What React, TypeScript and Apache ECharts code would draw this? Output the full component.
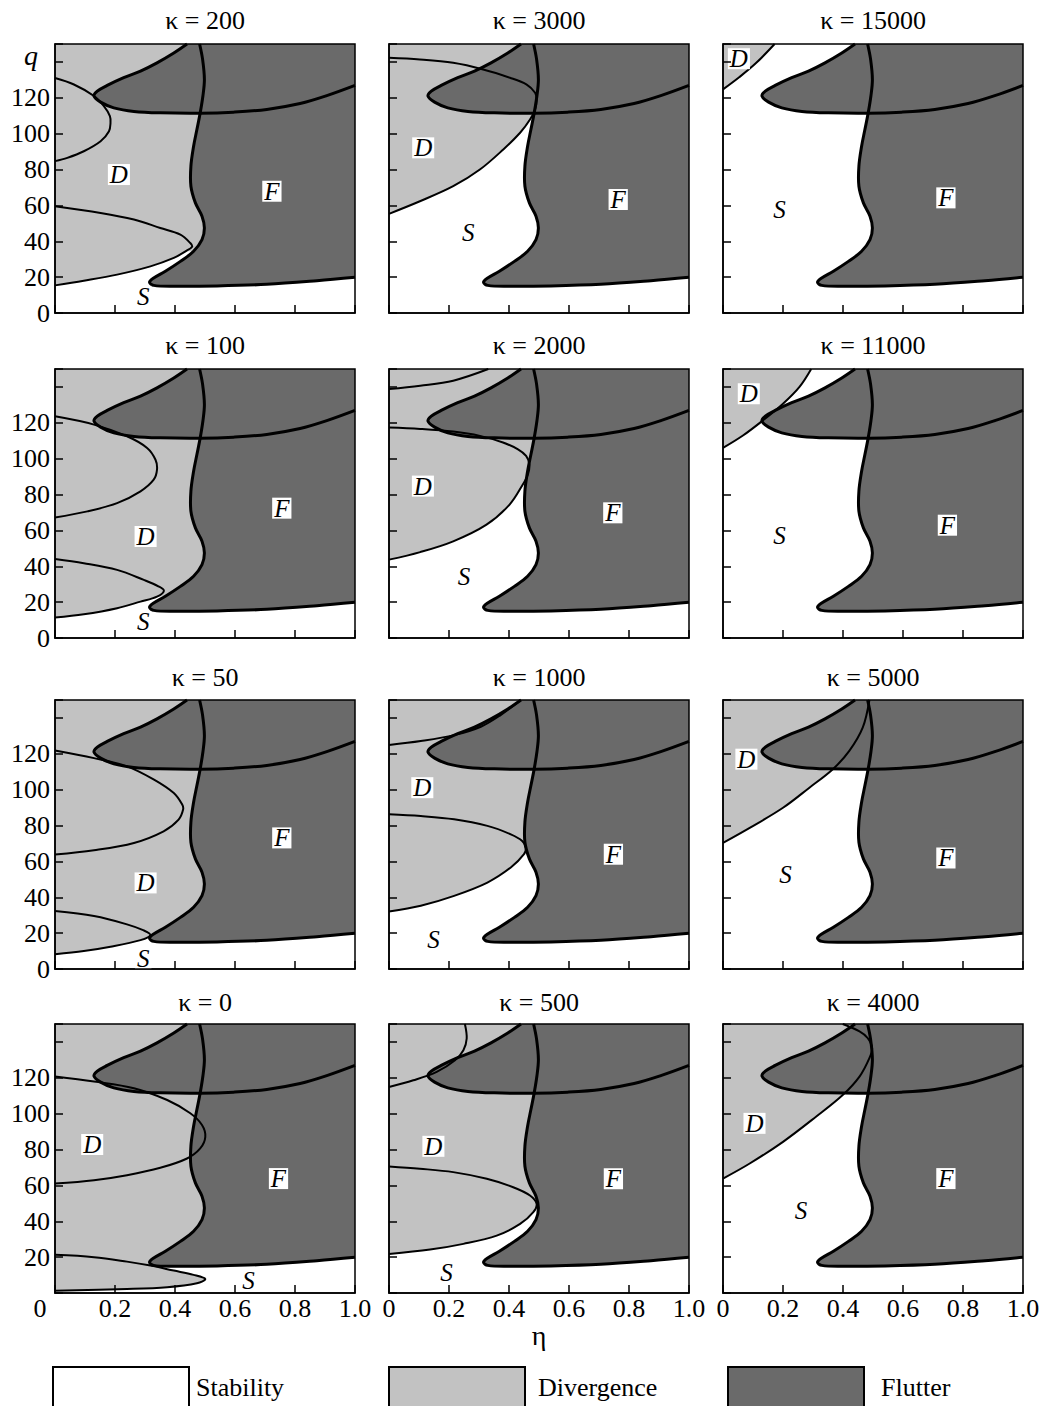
import React, { useEffect, useRef } from 'react';
import * as echarts from 'echarts';

type Pt = [number, number];

const FONT = '"Liberation Serif", "Times New Roman", serif';
const LIGHT = '#c2c2c2';
const DARK = '#6a6a6a';

const Q_MAX = 150;
const Q_STEP = 20;
const ETA_STEP = 0.2;

// Flutter boundary (identical for every κ)
const flutterTongue: Pt[] = [
  [0.44, 150], [0.396, 145], [0.34, 139.5], [0.285, 134.9], [0.229, 131.2], [0.174, 126.9],
  [0.141, 123.7], [0.13, 120.9], [0.152, 117.6], [0.196, 114.4], [0.263, 112.4], [0.351, 111.6],
  [0.484, 111.4], [0.595, 112], [0.706, 113.5], [0.817, 116.8], [0.906, 121.2], [1, 126.9],
];
const flutterMain: Pt[] = [
  [0.482, 150], [0.492, 141.4], [0.498, 130.2], [0.493, 121], [0.484, 111.6], [0.473, 102.3],
  [0.462, 93], [0.453, 81.9], [0.453, 70.7], [0.468, 61.4], [0.49, 54], [0.498, 47.4],
  [0.49, 40.9], [0.462, 34.4], [0.418, 28.8], [0.368, 23.3], [0.329, 19.5], [0.315, 17.1],
  [0.329, 15.4], [0.396, 14.9], [0.54, 15.1], [0.706, 16], [0.873, 18], [1, 19.9],
];

// Divergence boundaries per κ
const k200Upper: Pt[] = [[0, 131], [0.063, 127.4], [0.13, 121], [0.163, 115.3], [0.183, 109.8], [0.185, 106], [0.18, 101.4], [0.152, 95.8], [0.096, 90.2], [0.041, 86.5], [0, 84.7]];
const k200Lower: Pt[] = [[0, 59.5], [0.152, 55.8], [0.263, 52.1], [0.351, 47.4], [0.418, 43.7], [0.451, 39], [0.457, 37], [0.435, 34.4], [0.396, 30.7], [0.318, 26], [0.207, 21.4], [0.096, 18], [0, 15.4]];

const k3000Curve: Pt[] = [[0, 142.3], [0.103, 141.4], [0.214, 139.5], [0.314, 135.8], [0.403, 131.2], [0.459, 127.4], [0.487, 122.8], [0.492, 119], [0.487, 113.5], [0.47, 107.9], [0.437, 100.5], [0.381, 91.2], [0.303, 80], [0.214, 70.7], [0.103, 62.3], [0, 55.3]];

const k15000Curve: Pt[] = [[0, 124.7], [0.055, 131.6], [0.111, 139.5], [0.172, 150]];

const k100Upper: Pt[] = [[0, 123.6], [0.13, 119], [0.24, 112.5], [0.307, 106], [0.335, 99.4], [0.34, 93.9], [0.329, 88.3], [0.285, 81.8], [0.207, 75.2], [0.108, 70.6], [0, 67.2]];
const k100Lower: Pt[] = [[0, 44], [0.096, 41.7], [0.207, 38], [0.296, 32.4], [0.346, 28.7], [0.363, 26.3], [0.34, 23.1], [0.285, 20.3], [0.207, 16.6], [0.096, 13.2], [0, 11.4]];

const k2000Top: Pt[] = [[0, 138.8], [0.104, 140.7], [0.214, 143.5], [0.331, 150]];
const k2000Mid: Pt[] = [[0, 117.4], [0.104, 116.6], [0.214, 115.1], [0.303, 112.7], [0.38, 109], [0.43, 105.2], [0.457, 101.5], [0.468, 96.8], [0.463, 91.2], [0.446, 85.6], [0.402, 74.4], [0.325, 63.2], [0.214, 53.9], [0.104, 47.9], [0, 43.7]];

const k11000Curve: Pt[] = [[0, 106], [0.0665, 112.9], [0.133, 121.3], [0.2, 130.6], [0.255, 140], [0.294, 150]];

const k50Upper: Pt[] = [[0, 121.9], [0.13, 117.6], [0.24, 113], [0.33, 105.6], [0.396, 98.1], [0.424, 91.7], [0.427, 88.9], [0.412, 83.3], [0.362, 76.8], [0.263, 70.3], [0.13, 66.2], [0, 63.8]];
const k50Lower: Pt[] = [[0, 32.3], [0.13, 29.5], [0.24, 24.9], [0.296, 21.5], [0.318, 18.9], [0.285, 16.1], [0.185, 12.4], [0.096, 10], [0, 8.2]];

const k1000Top: Pt[] = [[0, 124.9], [0.106, 127.1], [0.217, 130.4], [0.306, 135.1], [0.372, 141.6], [0.439, 150]];
const k1000Mid: Pt[] = [[0, 86.3], [0.106, 85.3], [0.217, 83.5], [0.328, 79.8], [0.406, 75.1], [0.444, 71.4], [0.456, 67.7], [0.45, 64], [0.406, 56.6], [0.328, 48.2], [0.217, 40.8], [0.106, 35.3], [0, 32.1]];

const k5000Curve: Pt[] = [[0, 70.3], [0.089, 78.7], [0.2, 89.9], [0.288, 101.1], [0.366, 111.4], [0.421, 121.6], [0.466, 134.7], [0.488, 150]];

const k0Upper: Pt[] = [[0, 120.7], [0.13, 117.9], [0.263, 114.2], [0.374, 107.6], [0.451, 100.2], [0.49, 93.7], [0.501, 87.1], [0.484, 80.6], [0.44, 75], [0.351, 69.8], [0.24, 65.7], [0.13, 62.9], [0, 61]];
const k0Lower: Pt[] = [[0, 21.3], [0.13, 20], [0.24, 17.5], [0.318, 15.3], [0.396, 12.5], [0.462, 10.1], [0.501, 7.8], [0.473, 5.4], [0.374, 3.2], [0.24, 2.2], [0, 1.3]];

const k500Top: Pt[] = [[0.253, 150], [0.259, 141.9], [0.248, 135.4], [0.22, 129.8], [0.159, 123.3], [0.081, 118.6], [0, 114.9]];
const k500Mid: Pt[] = [[0, 70.6], [0.103, 69.3], [0.214, 67.4], [0.326, 63.7], [0.414, 59], [0.47, 54.4], [0.492, 49.7], [0.481, 45.1], [0.437, 38.5], [0.359, 32], [0.248, 27.4], [0.137, 24.2], [0, 21.8]];

const k4000Curve: Pt[] = [[0, 63.8], [0.089, 72.2], [0.2, 84.3], [0.31, 98.3], [0.399, 110.4], [0.455, 120.7], [0.488, 131], [0.497, 136.6], [0.482, 142.2], [0.455, 145.9], [0.399, 150]];

// Region labels [η, q, text]
const k200Labels: [number, number, string][] = [[0.213, 77.2, 'D'], [0.723, 67.9, 'F'], [0.294, 9.3, 'S']];
const k3000Labels: [number, number, string][] = [[0.114, 92.1, 'D'], [0.764, 63.3, 'F'], [0.264, 44.7, 'S']];
const k15000Labels: [number, number, string][] = [[0.053, 141.8, 'D'], [0.188, 57.7, 'S'], [0.743, 64.2, 'F']];
const k100Labels: [number, number, string][] = [[0.302, 56.6, 'D'], [0.756, 72.4, 'F'], [0.294, 9.1, 'S']];
const k2000Labels: [number, number, string][] = [[0.113, 84.7, 'D'], [0.746, 69.8, 'F'], [0.25, 34.3, 'S']];
const k11000Labels: [number, number, string][] = [[0.086, 136.2, 'D'], [0.188, 56.9, 'S'], [0.748, 62.9, 'F']];
const k50Labels: [number, number, string][] = [[0.302, 48, 'D'], [0.756, 73.1, 'F'], [0.294, 5.8, 'S']];
const k1000Labels: [number, number, string][] = [[0.111, 101.1, 'D'], [0.748, 64, 'F'], [0.148, 16.7, 'S']];
const k5000Labels: [number, number, string][] = [[0.078, 117, 'D'], [0.208, 52.6, 'S'], [0.743, 61.9, 'F']];
const k0Labels: [number, number, string][] = [[0.124, 82.8, 'D'], [0.745, 63.8, 'F'], [0.645, 6.9, 'S']];
const k500Labels: [number, number, string][] = [[0.148, 81.8, 'D'], [0.748, 63.7, 'F'], [0.192, 11.2, 'S']];
const k4000Labels: [number, number, string][] = [[0.105, 94.6, 'D'], [0.26, 46, 'S'], [0.743, 63.8, 'F']];

const kappaTitles = ['200', '3000', '15000', '100', '2000', '11000', '50', '1000', '5000', '0', '500', '4000'];

const closeRight = (pts: Pt[]): Pt[] => {
  const last = pts[pts.length - 1];
  return [...pts, [0.6, last[1]], [0.6, Q_MAX], [0, Q_MAX]];
};
const closeTopLeft = (pts: Pt[]): Pt[] => [...pts, [0, Q_MAX]];
const lowerBranch = (curve: Pt[], from: number): Pt[] => curve.slice(from).reverse();

interface Panel { lines: Pt[][]; gray: Pt[][]; labels: [number, number, string][] }

const panels: Panel[] = [
  { lines: [k200Upper, k200Lower], gray: [closeRight(lowerBranch(k200Lower, 7))], labels: k200Labels },
  { lines: [k3000Curve], gray: [closeRight(lowerBranch(k3000Curve, 8))], labels: k3000Labels },
  { lines: [k15000Curve], gray: [closeTopLeft(k15000Curve)], labels: k15000Labels },
  { lines: [k100Upper, k100Lower], gray: [closeRight(lowerBranch(k100Lower, 6))], labels: k100Labels },
  { lines: [k2000Top, k2000Mid], gray: [closeRight(lowerBranch(k2000Mid, 8))], labels: k2000Labels },
  { lines: [k11000Curve], gray: [closeTopLeft(k11000Curve)], labels: k11000Labels },
  { lines: [k50Upper, k50Lower], gray: [closeRight(lowerBranch(k50Lower, 4))], labels: k50Labels },
  { lines: [k1000Top, k1000Mid], gray: [closeRight(lowerBranch(k1000Mid, 7))], labels: k1000Labels },
  { lines: [k5000Curve], gray: [closeTopLeft(k5000Curve)], labels: k5000Labels },
  {
    lines: [k0Upper, k0Lower],
    gray: [k0Lower, [...k0Lower.slice(0, 4), [0.45, 25], [0.6, 25], [0.6, Q_MAX], [0, Q_MAX]]],
    labels: k0Labels,
  },
  { lines: [k500Top, k500Mid], gray: [closeRight(lowerBranch(k500Mid, 6))], labels: k500Labels },
  { lines: [k4000Curve], gray: [closeTopLeft(k4000Curve)], labels: k4000Labels },
];

const flutterFill: Pt[] = [...flutterTongue.slice(0, 13), ...flutterMain.slice(4), [1, Q_MAX]];

const COL_LEFT = [55, 389, 723];
const ROW_TOP = [44, 369, 700, 1024];
const PANEL_W = 300;
const PANEL_H = 269;
const TITLE_Y = [20, 345, 677, 1002];

function buildOption() {
  const grid: any[] = [];
  const xAxis: any[] = [];
  const yAxis: any[] = [];
  const series: any[] = [];
  const graphic: any[] = [];

  panels.forEach((p, i) => {
    const row = Math.floor(i / 3);
    const col = i % 3;
    grid.push({
      left: COL_LEFT[col], top: ROW_TOP[row], width: PANEL_W, height: PANEL_H,
      containLabel: false, outerBoundsMode: 'none',
    });
    const bottomRow = row === 3;
    xAxis.push({
      type: 'value', gridIndex: i, min: 0, max: 1, interval: ETA_STEP, z: 10,
      axisLine: { show: true, onZero: false, lineStyle: { color: '#000', width: 1.5 } },
      axisTick: { show: true, inside: true, length: 8, lineStyle: { color: '#000', width: 1.5 } },
      splitLine: { show: false },
      axisLabel: {
        show: bottomRow, margin: 2, color: '#000', fontSize: 26, fontFamily: FONT, hideOverlap: false,
        formatter: (v: number) => {
          if (v === 0) return col === 0 ? '{z|0}' : '0';
          return v.toFixed(1);
        },
        rich: { z: { fontSize: 26, fontFamily: FONT, color: '#000', padding: [0, 30, 0, 0] } },
      },
      name: bottomRow && col === 1 ? 'η' : '',
      nameLocation: 'middle', nameGap: 27,
      nameTextStyle: { fontSize: 28, fontFamily: FONT, color: '#000' },
    });
    yAxis.push({
      type: 'value', gridIndex: i, min: 0, max: Q_MAX, interval: Q_STEP, z: 10,
      axisLine: { show: true, onZero: false, lineStyle: { color: '#000', width: 1.5 } },
      axisTick: { show: true, inside: true, length: 8, lineStyle: { color: '#000', width: 1.5 } },
      splitLine: { show: false },
      axisLabel: {
        show: col === 0, margin: 5, color: '#000', fontSize: 26, fontFamily: FONT, hideOverlap: false,
        formatter: (v: number) => {
          if (v >= Q_MAX) return '';
          if (v === 140) return i === 0 ? '{q|q}' : '';
          if (v === 0) return bottomRow ? '' : '0';
          return String(v);
        },
        rich: { q: { fontSize: 28, fontStyle: 'italic', fontFamily: FONT, color: '#000', padding: [0, 12, 12, 0] } },
      },
    });

    series.push({
      type: 'custom', name: 'Divergence', xAxisIndex: i, yAxisIndex: i, z: 2, silent: true, clip: true,
      data: p.gray.map(() => [0, 0]),
      renderItem: (params: any, api: any) => ({
        type: 'polygon',
        shape: { points: p.gray[params.dataIndex].map((pt) => api.coord(pt)) },
        style: { fill: LIGHT, stroke: 'none' },
      }),
    });
    series.push({
      type: 'custom', name: 'Flutter', xAxisIndex: i, yAxisIndex: i, z: 3, silent: true, clip: true,
      data: [[0, 0]],
      renderItem: (_params: any, api: any) => ({
        type: 'polygon',
        shape: { points: flutterFill.map((pt) => api.coord(pt)) },
        style: { fill: DARK, stroke: 'none' },
      }),
    });
    series.push({
      type: 'custom', name: 'boundaries', xAxisIndex: i, yAxisIndex: i, z: 4, silent: true, clip: false,
      data: [[0, 0]],
      renderItem: (_params: any, api: any) => {
        const children: any[] = [];
        p.lines.forEach((ln) => {
          children.push({
            type: 'polyline',
            shape: { points: ln.map((pt) => api.coord(pt)), smooth: 0.35 },
            style: { stroke: '#000', lineWidth: 2, fill: 'none' },
          });
        });
        [flutterTongue, flutterMain].forEach((ln) => {
          children.push({
            type: 'polyline',
            shape: { points: ln.map((pt) => api.coord(pt)), smooth: 0.35 },
            style: { stroke: '#000', lineWidth: 3, fill: 'none' },
          });
        });
        const tl = api.coord([0, Q_MAX]);
        const br = api.coord([1, 0]);
        children.push({
          type: 'rect',
          shape: { x: tl[0], y: tl[1], width: br[0] - tl[0], height: br[1] - tl[1] },
          style: { stroke: '#000', lineWidth: 1.5, fill: 'none' },
        });
        p.labels.forEach(([eta, q, t]) => {
          const c = api.coord([eta, q]);
          children.push({
            type: 'text',
            x: c[0], y: c[1],
            style: {
              text: t, align: 'center', verticalAlign: 'middle',
              font: `italic 25px ${FONT}`, fill: '#000',
              backgroundColor: '#fff', padding: [1, 2, 0, 2], lineHeight: 20,
            },
          });
        });
        return { type: 'group', children };
      },
    });

    graphic.push({
      type: 'text', x: COL_LEFT[col] + PANEL_W / 2, y: TITLE_Y[row],
      style: {
        text: 'κ = ' + kappaTitles[i], align: 'center', verticalAlign: 'middle',
        font: `26px ${FONT}`, fill: '#000',
      },
    });
  });

  series.push({
    type: 'custom', name: 'Stability', xAxisIndex: 0, yAxisIndex: 0, silent: true,
    data: [], renderItem: () => null,
  });

  const legendBase = {
    top: 1366, itemWidth: 136, itemHeight: 40, padding: 0, selectedMode: false,
  };
  const legend = [
    {
      ...legendBase, left: 52,
      data: [{ name: 'Stability', icon: 'rect', itemStyle: { color: '#fff', borderColor: '#000', borderWidth: 2 } }],
      textStyle: { fontSize: 26, fontFamily: FONT, color: '#000', padding: [0, 0, 0, 2] },
    },
    {
      ...legendBase, left: 388,
      data: [{ name: 'Divergence', icon: 'rect', itemStyle: { color: LIGHT, borderColor: '#000', borderWidth: 2 } }],
      textStyle: { fontSize: 26, fontFamily: FONT, color: '#000', padding: [0, 0, 0, 8] },
    },
    {
      ...legendBase, left: 727,
      data: [{ name: 'Flutter', icon: 'rect', itemStyle: { color: DARK, borderColor: '#000', borderWidth: 2 } }],
      textStyle: { fontSize: 26, fontFamily: FONT, color: '#000', padding: [0, 0, 0, 12] },
    },
  ];

  return {
    animation: false,
    backgroundColor: '#fff',
    grid, xAxis, yAxis, series, graphic, legend,
  };
}

export default function App() {
  const ref = useRef<HTMLDivElement>(null);
  useEffect(() => {
    document.body.style.margin = '0';
    if (!ref.current) return;
    const chart = echarts.init(ref.current, null, { renderer: 'svg' });
    chart.setOption(buildOption() as any);
    return () => chart.dispose();
  }, []);
  return <div ref={ref} style={{ width: 1044, height: 1406 }} />;
}
